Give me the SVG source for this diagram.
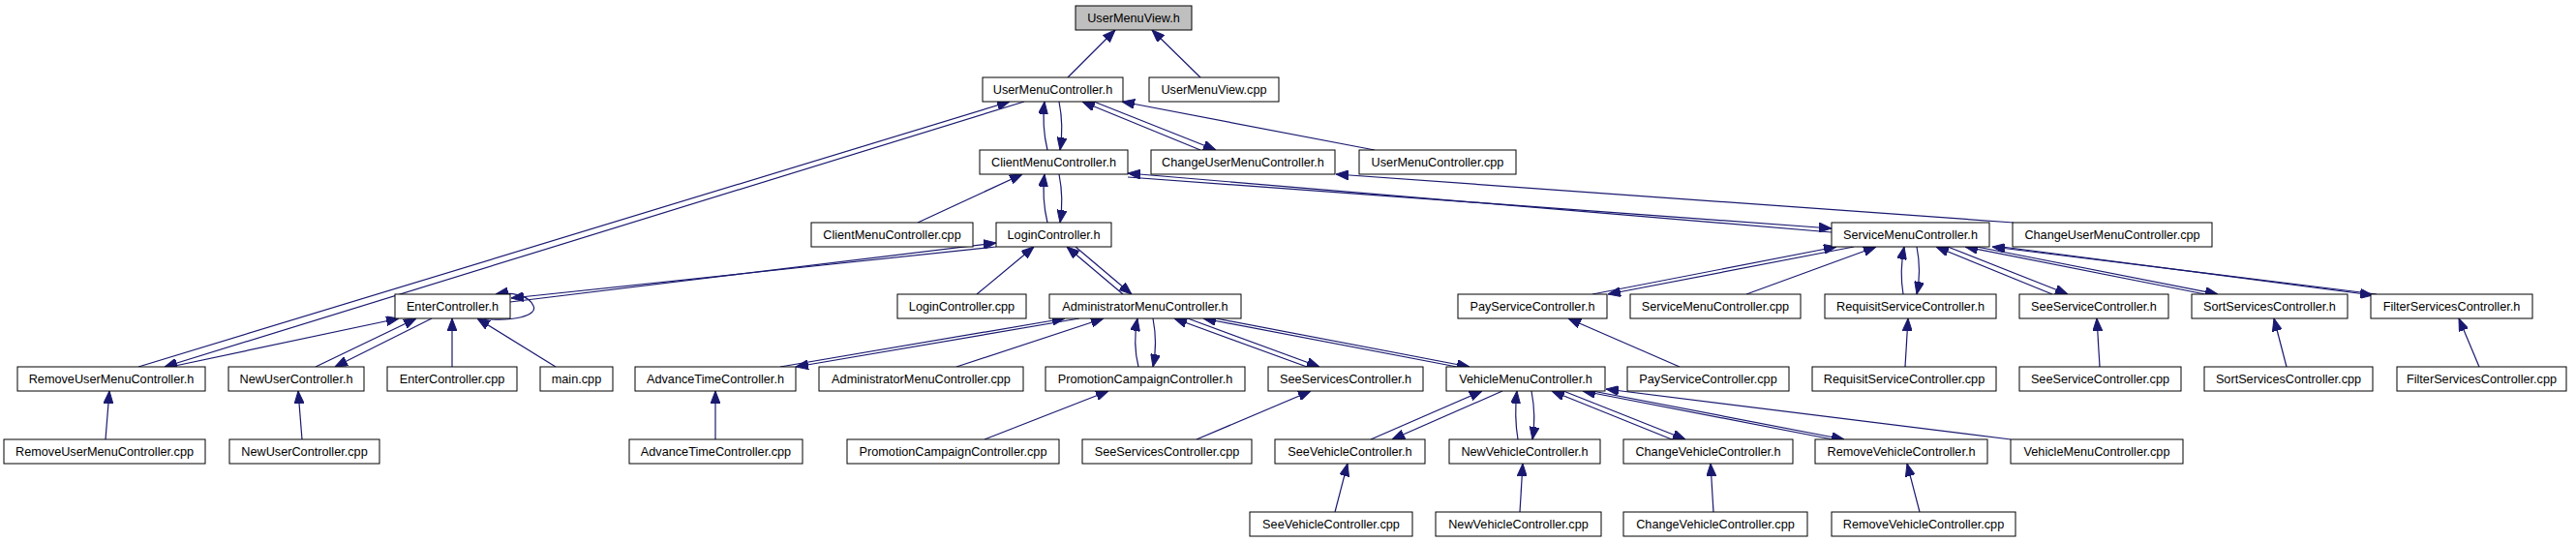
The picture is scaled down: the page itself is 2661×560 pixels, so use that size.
<svg xmlns="http://www.w3.org/2000/svg" width="2661" height="560" viewBox="0 0 2661 560">
<style>
.n rect{fill:#fff;stroke:#000;stroke-width:1}
.n text{font-family:"Liberation Sans",Arial,sans-serif;font-size:12.7px;text-anchor:middle;fill:#000}
#edges path{stroke:#191970;stroke-width:1.2;fill:none;marker-end:url(#a)}
</style>
<defs>
<marker id="a" viewBox="0 0 13 10" refX="13" refY="5" markerWidth="13" markerHeight="10" markerUnits="userSpaceOnUse" orient="auto">
<path d="M0,0 L13,5 L0,10 z" fill="#191970" stroke="#191970"/>
</marker>
</defs>
<rect width="2661" height="560" fill="#fff"/>
<g id="edges">
<path d="M1103,80 L1152,31"/>
<path d="M1240,80 L1190,31"/>
<path d="M143,379 L1043,105"/>
<path d="M1058,105 L170,379"/>
<path d="M176,379 L412,329"/>
<path d="M1082,155 Q1076,130 1079,105"/>
<path d="M1094,105 Q1099,130 1095,155"/>
<path d="M1240,155 L1118,105"/>
<path d="M1130,105 L1256,155"/>
<path d="M1420,155 L1159,105"/>
<path d="M948,230 L1056,180"/>
<path d="M1082,230 Q1076,205 1079,180"/>
<path d="M1094,180 Q1099,205 1095,230"/>
<path d="M1892,240 L1165,179"/>
<path d="M1165,183 L1892,236"/>
<path d="M2080,230 L1380,180"/>
<path d="M527,312 L1029,251"/>
<path d="M1029,255 L528,308"/>
<path d="M497,329 C530,333 556,326 551,316 C547,306 530,301 512,304"/>
<path d="M1009,304 L1068,255"/>
<path d="M1160,304 L1102,255"/>
<path d="M1111,255 L1169,304"/>
<path d="M326,379 L430,329"/>
<path d="M446,329 L346,379"/>
<path d="M467,379 L467,329"/>
<path d="M574,379 L493,329"/>
<path d="M806,379 L1100,329"/>
<path d="M1115,329 L822,379"/>
<path d="M988,379 L1140,329"/>
<path d="M1176,379 Q1170,355 1175,329"/>
<path d="M1191,329 Q1196,355 1191,379"/>
<path d="M1350,379 L1213,329"/>
<path d="M1227,329 L1363,379"/>
<path d="M1505,379 L1243,329"/>
<path d="M1256,329 L1518,379"/>
<path d="M1645,304 L1897,255"/>
<path d="M1915,255 L1661,304"/>
<path d="M1804,304 L1938,255"/>
<path d="M1966,304 Q1962,280 1967,255"/>
<path d="M1980,255 Q1985,280 1980,304"/>
<path d="M2120,304 L2000,255"/>
<path d="M2012,255 L2136,304"/>
<path d="M2278,304 L2030,255"/>
<path d="M2042,255 L2291,304"/>
<path d="M2455,304 L2058,255"/>
<path d="M2068,255 L2451,305"/>
<path d="M109,454 L113,404"/>
<path d="M312,454 L308,404"/>
<path d="M739,454 L739,404"/>
<path d="M1017,454 L1145,404"/>
<path d="M1236,454 L1354,404"/>
<path d="M1735,379 L1620,329"/>
<path d="M1968,379 L1971,329"/>
<path d="M2169,379 L2166,329"/>
<path d="M2362,379 L2349,329"/>
<path d="M2561,379 L2540,329"/>
<path d="M1416,454 L1531,404"/>
<path d="M1552,404 L1438,454"/>
<path d="M1568,454 Q1564,430 1567,404"/>
<path d="M1582,404 Q1587,430 1583,454"/>
<path d="M1727,454 L1603,404"/>
<path d="M1615,404 L1741,454"/>
<path d="M1893,454 L1635,404"/>
<path d="M1645,404 L1905,454"/>
<path d="M2077,454 L1659,402"/>
<path d="M1379,529 L1392,479"/>
<path d="M1570,529 L1573,479"/>
<path d="M1770,529 L1767,479"/>
<path d="M1983,529 L1970,479"/>
</g>
<g id="n_umv" class="n"><rect x="1111" y="6" width="120" height="25" style="fill:#bfbfbf"/><text x="1171" y="23">UserMenuView.h</text></g>
<g id="n_umc" class="n"><rect x="1015" y="80" width="145" height="25"/><text x="1087.5" y="97">UserMenuController.h</text></g>
<g id="n_umvcpp" class="n"><rect x="1187" y="80" width="134" height="25"/><text x="1254" y="97">UserMenuView.cpp</text></g>
<g id="n_cmc" class="n"><rect x="1012" y="155" width="153" height="25"/><text x="1088.5" y="172">ClientMenuController.h</text></g>
<g id="n_cumc" class="n"><rect x="1189" y="155" width="190" height="25"/><text x="1284" y="172">ChangeUserMenuController.h</text></g>
<g id="n_umccpp" class="n"><rect x="1404" y="155" width="162" height="25"/><text x="1485" y="172">UserMenuController.cpp</text></g>
<g id="n_cmccpp" class="n"><rect x="838" y="230" width="167" height="25"/><text x="921.5" y="247">ClientMenuController.cpp</text></g>
<g id="n_lc" class="n"><rect x="1029" y="230" width="119" height="25"/><text x="1088.5" y="247">LoginController.h</text></g>
<g id="n_smc" class="n"><rect x="1892" y="230" width="163" height="25"/><text x="1973.5" y="247">ServiceMenuController.h</text></g>
<g id="n_cumccpp" class="n"><rect x="2079" y="230" width="206" height="25"/><text x="2182" y="247">ChangeUserMenuController.cpp</text></g>
<g id="n_ec" class="n"><rect x="408" y="304" width="119" height="25"/><text x="467.5" y="321">EnterController.h</text></g>
<g id="n_lccpp" class="n"><rect x="927" y="304" width="133" height="25"/><text x="993.5" y="321">LoginController.cpp</text></g>
<g id="n_amc" class="n"><rect x="1084" y="304" width="198" height="25"/><text x="1183" y="321">AdministratorMenuController.h</text></g>
<g id="n_psc" class="n"><rect x="1506" y="304" width="154" height="25"/><text x="1583" y="321">PayServiceController.h</text></g>
<g id="n_smccpp" class="n"><rect x="1684" y="304" width="176" height="25"/><text x="1772" y="321">ServiceMenuController.cpp</text></g>
<g id="n_rsc" class="n"><rect x="1885" y="304" width="177" height="25"/><text x="1973.5" y="321">RequisitServiceController.h</text></g>
<g id="n_ssc" class="n"><rect x="2086" y="304" width="154" height="25"/><text x="2163" y="321">SeeServiceController.h</text></g>
<g id="n_sosc" class="n"><rect x="2264" y="304" width="161" height="25"/><text x="2344.5" y="321">SortServicesController.h</text></g>
<g id="n_fsc" class="n"><rect x="2449" y="304" width="167" height="25"/><text x="2532.5" y="321">FilterServicesController.h</text></g>
<g id="n_rumc" class="n"><rect x="18" y="379" width="194" height="25"/><text x="115" y="396">RemoveUserMenuController.h</text></g>
<g id="n_nuc" class="n"><rect x="236" y="379" width="140" height="25"/><text x="306" y="396">NewUserController.h</text></g>
<g id="n_eccpp" class="n"><rect x="400" y="379" width="134" height="25"/><text x="467" y="396">EnterController.cpp</text></g>
<g id="n_main" class="n"><rect x="558" y="379" width="75" height="25"/><text x="595.5" y="396">main.cpp</text></g>
<g id="n_atc" class="n"><rect x="656" y="379" width="166" height="25"/><text x="739" y="396">AdvanceTimeController.h</text></g>
<g id="n_amccpp" class="n"><rect x="846" y="379" width="211" height="25"/><text x="951.5" y="396">AdministratorMenuController.cpp</text></g>
<g id="n_pcc" class="n"><rect x="1080" y="379" width="206" height="25"/><text x="1183" y="396">PromotionCampaignController.h</text></g>
<g id="n_sesc" class="n"><rect x="1310" y="379" width="160" height="25"/><text x="1390" y="396">SeeServicesController.h</text></g>
<g id="n_vmc" class="n"><rect x="1494" y="379" width="164" height="25"/><text x="1576" y="396">VehicleMenuController.h</text></g>
<g id="n_psccpp" class="n"><rect x="1681" y="379" width="167" height="25"/><text x="1764.5" y="396">PayServiceController.cpp</text></g>
<g id="n_rsccpp" class="n"><rect x="1872" y="379" width="190" height="25"/><text x="1967" y="396">RequisitServiceController.cpp</text></g>
<g id="n_ssccpp" class="n"><rect x="2086" y="379" width="167" height="25"/><text x="2169.5" y="396">SeeServiceController.cpp</text></g>
<g id="n_sosccpp" class="n"><rect x="2277" y="379" width="174" height="25"/><text x="2364" y="396">SortServicesController.cpp</text></g>
<g id="n_fsccpp" class="n"><rect x="2476" y="379" width="175" height="25"/><text x="2563.5" y="396">FilterServicesController.cpp</text></g>
<g id="n_rumccpp" class="n"><rect x="4" y="454" width="208" height="25"/><text x="108" y="471">RemoveUserMenuController.cpp</text></g>
<g id="n_nuccpp" class="n"><rect x="237" y="454" width="155" height="25"/><text x="314.5" y="471">NewUserController.cpp</text></g>
<g id="n_atccpp" class="n"><rect x="650" y="454" width="179" height="25"/><text x="739.5" y="471">AdvanceTimeController.cpp</text></g>
<g id="n_pcccpp" class="n"><rect x="875" y="454" width="219" height="25"/><text x="984.5" y="471">PromotionCampaignController.cpp</text></g>
<g id="n_sesccpp" class="n"><rect x="1118" y="454" width="175" height="25"/><text x="1205.5" y="471">SeeServicesController.cpp</text></g>
<g id="n_svc" class="n"><rect x="1317" y="454" width="155" height="25"/><text x="1394.5" y="471">SeeVehicleController.h</text></g>
<g id="n_nvc" class="n"><rect x="1497" y="454" width="156" height="25"/><text x="1575" y="471">NewVehicleController.h</text></g>
<g id="n_cvc" class="n"><rect x="1677" y="454" width="175" height="25"/><text x="1764.5" y="471">ChangeVehicleController.h</text></g>
<g id="n_rvc" class="n"><rect x="1875" y="454" width="178" height="25"/><text x="1964" y="471">RemoveVehicleController.h</text></g>
<g id="n_vmccpp" class="n"><rect x="2077" y="454" width="178" height="25"/><text x="2166" y="471">VehicleMenuController.cpp</text></g>
<g id="n_svccpp" class="n"><rect x="1291" y="529" width="168" height="25"/><text x="1375" y="546">SeeVehicleController.cpp</text></g>
<g id="n_nvccpp" class="n"><rect x="1483" y="529" width="171" height="25"/><text x="1568.5" y="546">NewVehicleController.cpp</text></g>
<g id="n_cvccpp" class="n"><rect x="1677" y="529" width="190" height="25"/><text x="1772" y="546">ChangeVehicleController.cpp</text></g>
<g id="n_rvccpp" class="n"><rect x="1892" y="529" width="190" height="25"/><text x="1987" y="546">RemoveVehicleController.cpp</text></g>
</svg>
